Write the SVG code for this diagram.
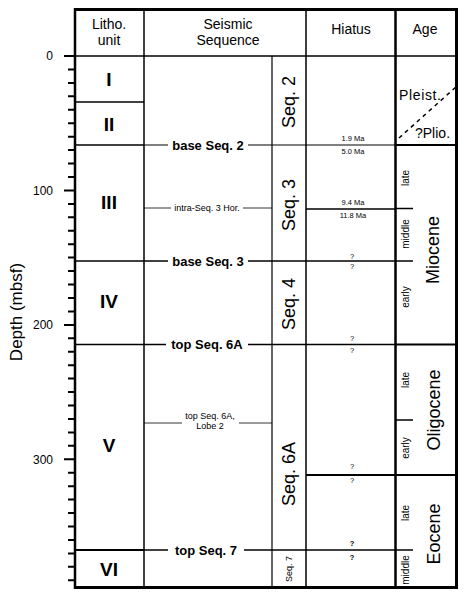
<svg xmlns="http://www.w3.org/2000/svg" width="468" height="596" viewBox="0 0 468 596">
<style>
text{font-family:"Liberation Sans",Arial,Helvetica,sans-serif;fill:#000}
.hd{font-size:14px;text-anchor:middle}
.rn{font-size:19px;font-weight:bold;text-anchor:middle}
.dl{font-size:12px;text-anchor:end}
.bl{font-size:13px;font-weight:bold;text-anchor:middle}
.sm{font-size:9px;text-anchor:middle}
.hi{font-size:7.5px;text-anchor:middle}
.sq{font-size:18px;text-anchor:middle}
.ep{font-size:18px;text-anchor:middle}
.sub{font-size:10px;text-anchor:middle}
.ln{stroke:#000;fill:none}
</style>
<rect width="468" height="596" fill="#fff"/>
<g id="axis">
<path class="ln" stroke-width="2" d="M64 56H75M64 190.4H75M64 324.9H75M64 459.3H75"/>
<path class="ln" stroke-width="2" d="M68 69.4H75M68 82.9H75M68 96.3H75M68 109.8H75M68 123.2H75M68 136.7H75M68 150.1H75M68 163.5H75M68 177H75M68 203.9H75M68 217.3H75M68 230.8H75M68 244.2H75M68 257.6H75M68 271.1H75M68 284.5H75M68 298H75M68 311.4H75M68 338.3H75M68 351.7H75M68 365.2H75M68 378.6H75M68 392.1H75M68 405.5H75M68 419H75M68 432.4H75M68 445.8H75M68 472.7H75M68 486.2H75M68 499.6H75M68 513.1H75M68 526.5H75M68 540H75M68 553.4H75M68 566.8H75M68 580.3H75"/>
<text class="dl" x="53" y="60">0</text>
<text class="dl" x="53" y="194.5">100</text>
<text class="dl" x="53" y="329">200</text>
<text class="dl" x="53" y="463.5">300</text>
<text x="22" y="312" font-size="17" text-anchor="middle" transform="rotate(-90 22 312)">Depth (mbsf)</text>
</g>
<g id="frame">
<path class="ln" stroke-width="3" d="M75 9.5H457"/>
<path class="ln" stroke-width="3" d="M75 587.5H457"/>
<path class="ln" stroke-width="2.5" d="M75 8V589"/>
<path class="ln" stroke-width="3" d="M456.5 8V589"/>
<path class="ln" stroke-width="1.5" d="M75 56H457"/>
<path class="ln" stroke-width="1.5" d="M144 9V588M306 9V588"/>
<path class="ln" stroke-width="2.5" d="M395.5 9V588"/>
<path class="ln" stroke-width="1.2" d="M272 56V588"/>
</g>
<g id="headers">
<text class="hd" x="109" y="29">Litho.</text>
<text class="hd" x="109" y="45">unit</text>
<text class="hd" x="228" y="29">Seismic</text>
<text class="hd" x="228" y="45">Sequence</text>
<text class="hd" x="351" y="34">Hiatus</text>
<text class="hd" x="425" y="34">Age</text>
</g>
<g id="connectors">
<path class="ln" stroke-width="1.5" d="M75 102H144"/>
<path class="ln" stroke-width="1.5" d="M75 145H144"/>
<path class="ln" stroke-width="1.2" d="M144 145H395"/>
<path class="ln" stroke-width="2" d="M395 145H457"/>
<path class="ln" stroke-width="0.8" d="M144 208H272"/>
<path class="ln" stroke-width="1.5" d="M306 209H395"/>
<path class="ln" stroke-width="1.5" d="M395 208.5H413"/>
<path class="ln" stroke-width="1.5" d="M75 261H413"/>
<path class="ln" stroke-width="1.5" d="M75 344.5H395"/>
<path class="ln" stroke-width="2" d="M395 344.5H457"/>
<path class="ln" stroke-width="1.5" d="M395 420H413"/>
<path class="ln" stroke-width="0.8" d="M144 423H272"/>
<path class="ln" stroke-width="2" d="M306 475H457"/>
<path class="ln" stroke-width="2" d="M75 550H144"/>
<path class="ln" stroke-width="1.5" d="M144 550H413"/>
<path class="ln" stroke-width="1.5" stroke-dasharray="4 4" d="M399 138L457 86"/>
</g>
<g id="litho-units">
<text class="rn" x="109" y="86">I</text>
<text class="rn" x="109" y="131">II</text>
<text class="rn" x="109" y="209">III</text>
<text class="rn" x="109" y="308">IV</text>
<text class="rn" x="109" y="452">V</text>
<text class="rn" x="109" y="576">VI</text>
</g>
<g id="seismic-horizons">
<rect x="168" y="138" width="80" height="14" fill="#fff"/>
<text class="bl" x="208" y="149.5">base Seq. 2</text>
<rect x="171" y="203" width="72" height="10" fill="#fff"/>
<text class="sm" x="207" y="211">intra-Seq. 3 Hor.</text>
<rect x="168" y="254" width="80" height="14" fill="#fff"/>
<text class="bl" x="208" y="265.5">base Seq. 3</text>
<rect x="166" y="337" width="82" height="14" fill="#fff"/>
<text class="bl" x="207" y="349">top Seq. 6A</text>
<rect x="182" y="412" width="57" height="20" fill="#fff"/>
<text class="sm" x="210" y="419">top Seq. 6A,</text>
<text class="sm" x="210" y="429">Lobe 2</text>
<rect x="168" y="543" width="76" height="14" fill="#fff"/>
<text class="bl" x="206" y="554.5">top Seq. 7</text>
</g>
<g id="sequences">
<text class="sq" x="289" y="102" dy="0.35em" transform="rotate(-90 289 102)">Seq. 2</text>
<text class="sq" x="289" y="205" dy="0.35em" transform="rotate(-90 289 205)">Seq. 3</text>
<text class="sq" x="289" y="304" dy="0.35em" transform="rotate(-90 289 304)">Seq. 4</text>
<text class="sq" x="289" y="474" dy="0.35em" transform="rotate(-90 289 474)">Seq. 6A</text>
<text x="289" y="569" dy="0.35em" font-size="9" text-anchor="middle" transform="rotate(-90 289 569)">Seq. 7</text>
</g>
<g id="hiatus">
<text class="hi" x="353" y="141">1.9 Ma</text>
<text class="hi" x="353" y="154">5.0 Ma</text>
<text class="hi" x="353" y="205">9.4 Ma</text>
<text class="hi" x="353" y="218">11.8 Ma</text>
<text class="hi" x="352" y="258.5">?</text>
<text class="hi" x="352" y="269">?</text>
<text class="hi" x="352" y="341">?</text>
<text class="hi" x="352" y="352.5">?</text>
<text class="hi" x="352" y="469">?</text>
<text class="hi" x="352" y="482.5">?</text>
<text class="hi" x="352" y="546" font-weight="bold">?</text>
<text class="hi" x="352" y="559.5" font-weight="bold">?</text>
</g>
<g id="age">
<text x="399" y="100" font-size="14" textLength="42" lengthAdjust="spacing">Pleist.</text>
<text x="415" y="138" font-size="14">?Plio.</text>
<text class="sub" x="405" y="178" dy="0.35em" transform="rotate(-90 405 178)">late</text>
<text class="sub" x="405" y="234" dy="0.35em" transform="rotate(-90 405 234)">middle</text>
<text class="sub" x="405" y="297" dy="0.35em" transform="rotate(-90 405 297)">early</text>
<text class="ep" x="433" y="250" dy="0.35em" transform="rotate(-90 433 250)">Miocene</text>
<text class="sub" x="405" y="380" dy="0.35em" transform="rotate(-90 405 380)">late</text>
<text class="sub" x="405" y="448" dy="0.35em" transform="rotate(-90 405 448)">early</text>
<text class="ep" x="434" y="410" dy="0.35em" transform="rotate(-90 434 410)">Oligocene</text>
<text class="sub" x="405" y="513" dy="0.35em" transform="rotate(-90 405 513)">late</text>
<text class="sub" x="405" y="570" dy="0.35em" transform="rotate(-90 405 570)">middle</text>
<text class="ep" x="434" y="534" dy="0.35em" transform="rotate(-90 434 534)">Eocene</text>
</g>
</svg>
